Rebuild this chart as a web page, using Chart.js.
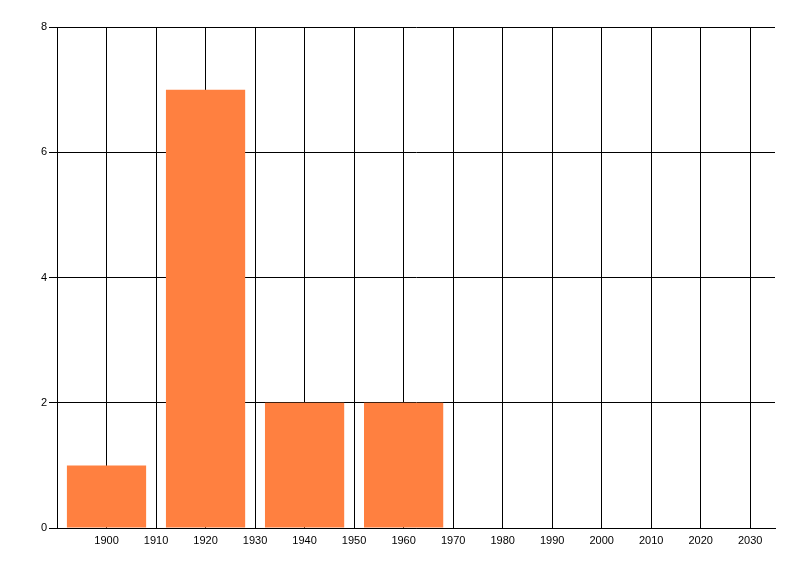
<!DOCTYPE html>
<html>
<head>
<meta charset="utf-8">
<script src="https://cdn.jsdelivr.net/npm/chart.js@4/dist/chart.umd.min.js"></script>
<style>
  body { margin: 0; background: #fff; }
</style>
</head>
<body>
<canvas id="histChart" width="800" height="576"></canvas>
<script>
// decades and counts
const years = [1900, 1920, 1940, 1960];
const counts = [1, 7, 2, 2];
const yTicks = [0, 2, 4, 6, 8];
const xTicks = [1890, 1900, 1910, 1920, 1930, 1940, 1950, 1960, 1970, 1980, 1990, 2000, 2010, 2020, 2030];

const points = years.map((yr, i) => ({ x: yr, y: counts[i] }));

const ctx = document.getElementById('histChart').getContext('2d');
new Chart(ctx, {
  type: 'bar',
  data: {
    datasets: [{
      data: points,
      backgroundColor: '#FF8040',
      borderWidth: 0,
      categoryPercentage: 1.0,
      barPercentage: 1.6 // ruler uses the 10-year tick spacing
    }]
  },
  options: {
    responsive: false,
    animation: false,
    layout: { padding: { top: 27, right: 25, left: 0, bottom: 0 } },
    plugins: { legend: { display: false }, tooltip: { enabled: false } },
    scales: {
      x: {
        type: 'linear',
        min: 1890,
        max: 2035,
        offset: false,
        afterBuildTicks: s => { s.ticks = xTicks.map(v => ({ value: v })); },
        grid: { offset: false, color: '#000', lineWidth: 1, drawTicks: false },
        border: { color: '#000', width: 1 },
        ticks: {
          autoSkip: false,
          maxRotation: 0,
          padding: 6,
          color: '#000',
          font: { family: 'Liberation Sans', size: 11 },
          callback: v => (v === 1890 ? '' : String(v))
        },
        afterFit: s => { s.height = 48; }
      },
      y: {
        min: 0,
        max: 8,
        afterBuildTicks: s => { s.ticks = yTicks.map(v => ({ value: v })); },
        grid: { color: '#000', lineWidth: 1, tickLength: 8 },
        border: { color: '#000', width: 1 },
        ticks: {
          padding: 2,
          color: '#000',
          font: { family: 'Liberation Sans', size: 11 }
        },
        afterFit: s => { s.width = 57; }
      }
    }
  }
});
</script>
</body>
</html>
